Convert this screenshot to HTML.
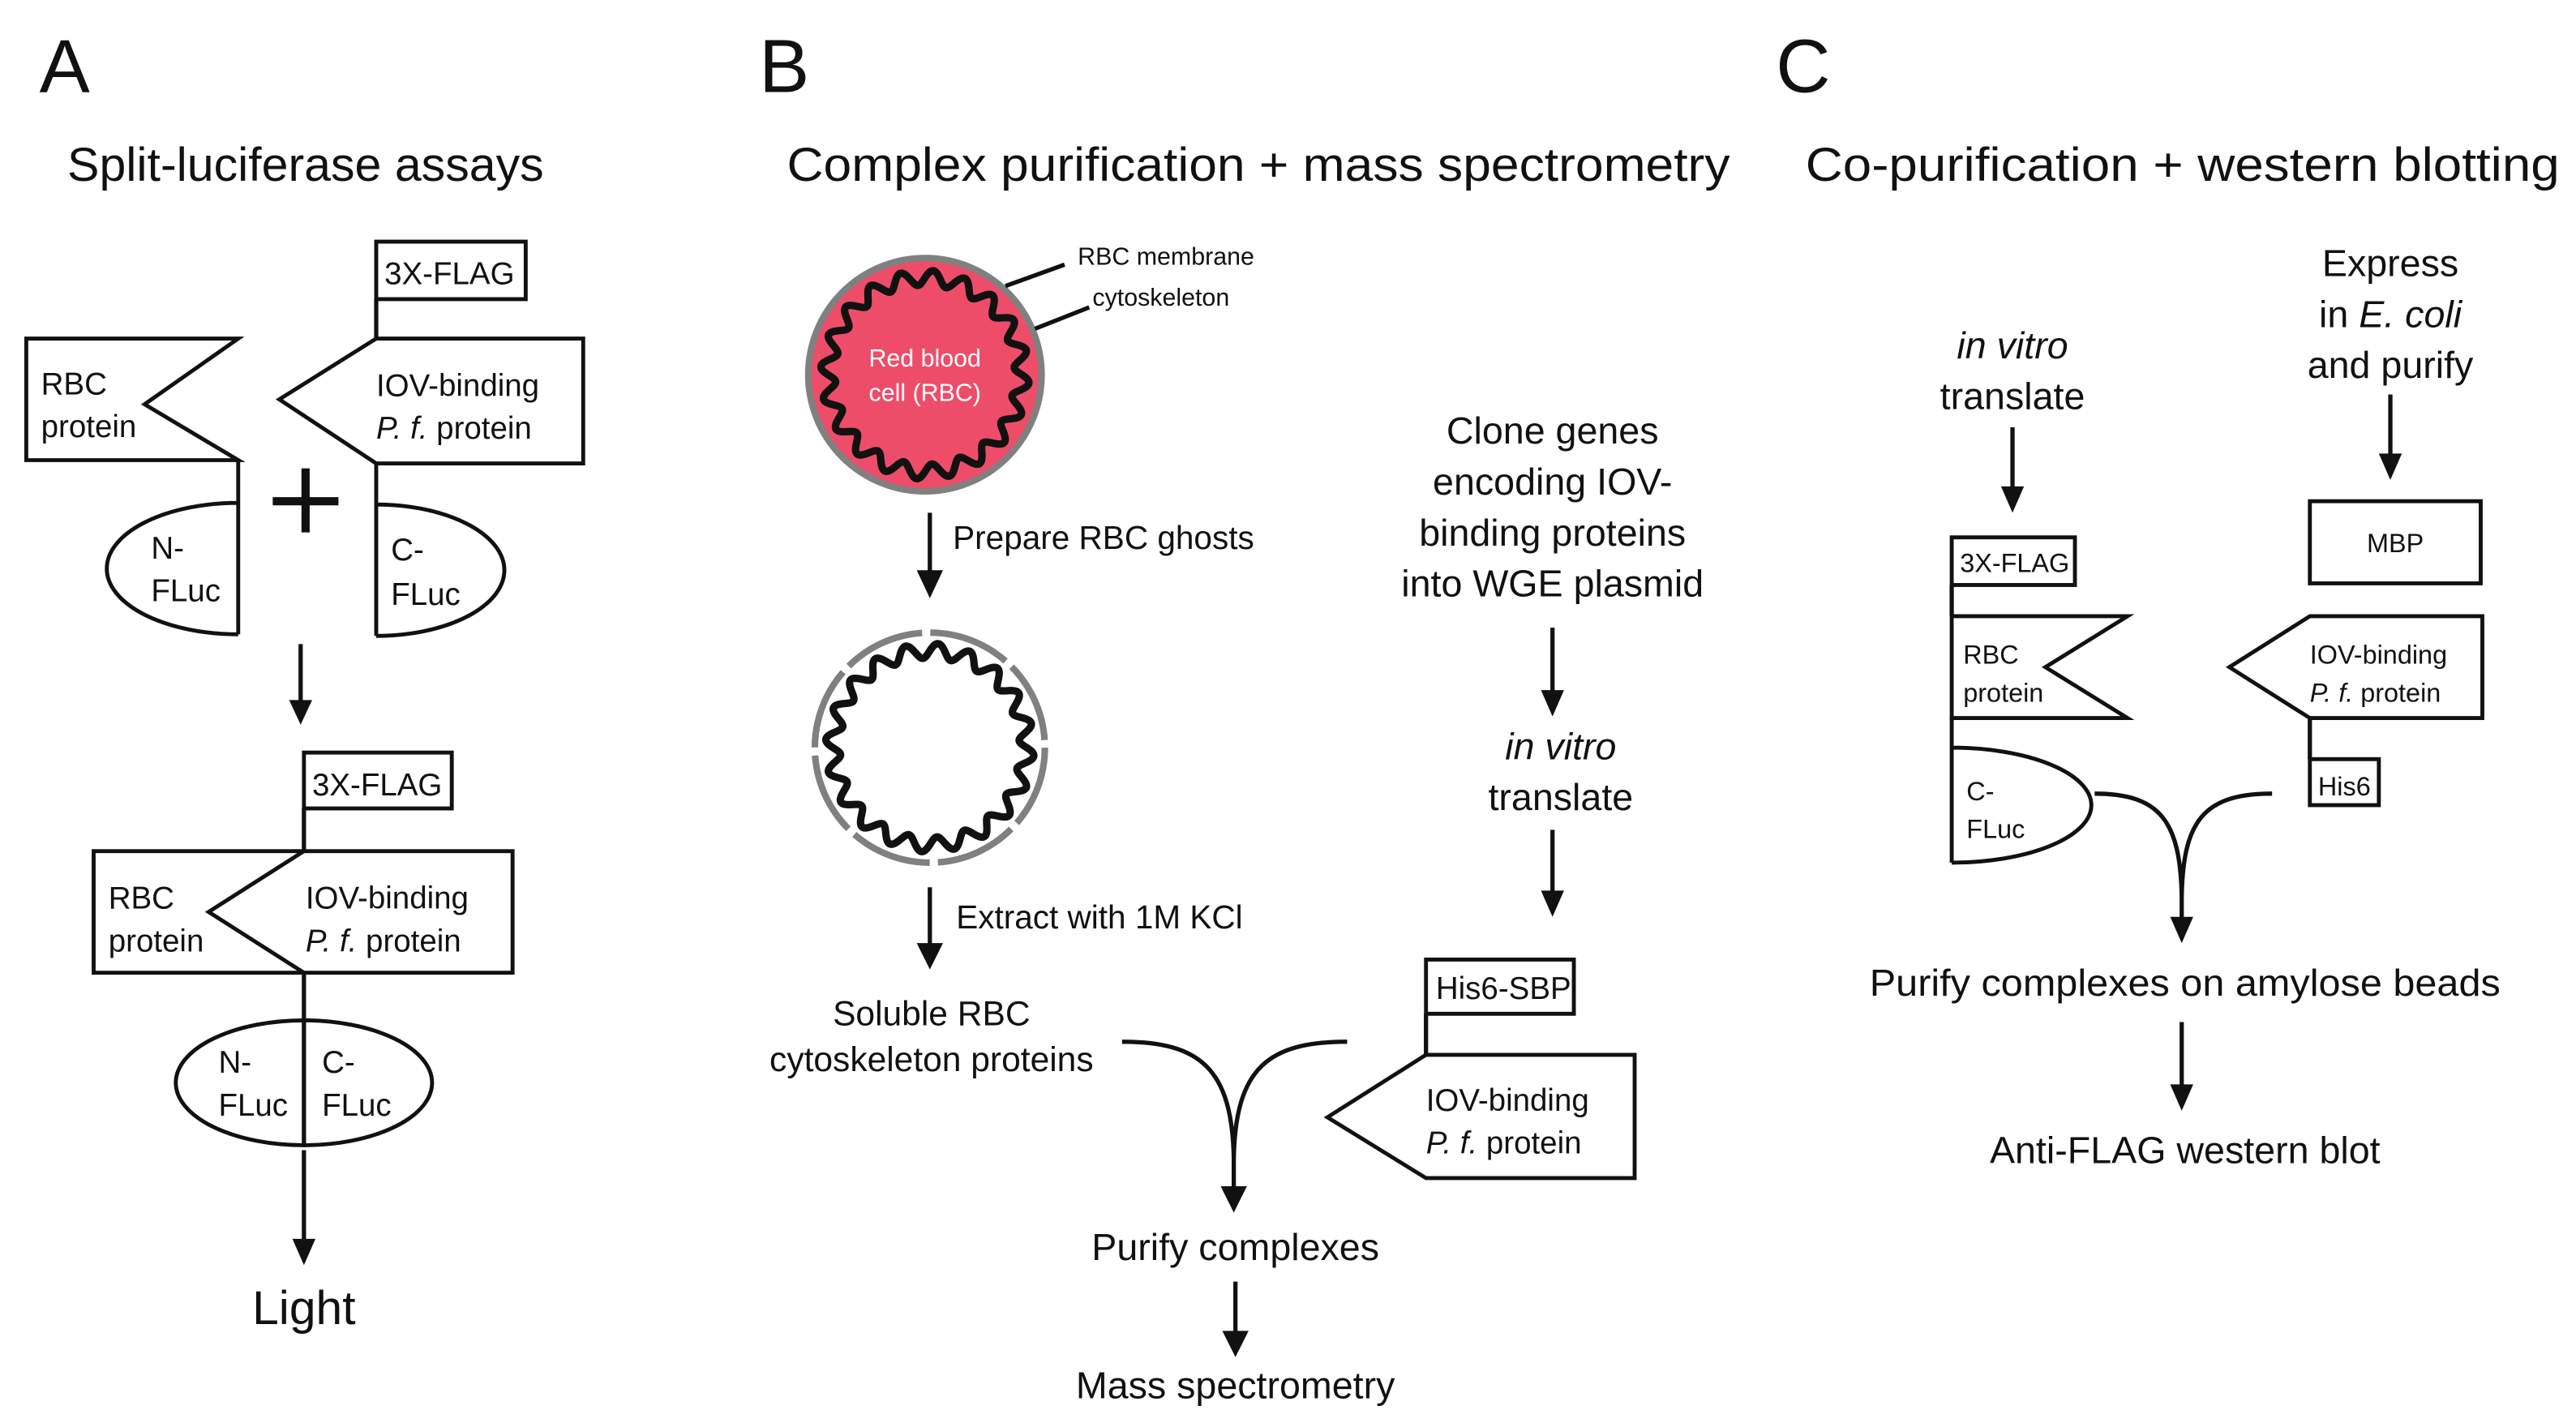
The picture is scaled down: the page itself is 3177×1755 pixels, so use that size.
<!DOCTYPE html>
<html><head><meta charset="utf-8"><style>
html,body{margin:0;padding:0;background:#fff}
svg{display:block}
text{font-family:"Liberation Sans",sans-serif;fill:#111}
.s{fill:none;stroke:#111;stroke-width:2.4;stroke-linejoin:miter}
.w{fill:#fff;stroke:#111;stroke-width:2.4}
.l{stroke:#111;stroke-width:2.6;fill:none}
.wv{fill:none;stroke:#111;stroke-width:4.5;stroke-linejoin:round}
.t19{font-size:19px}.t16{font-size:16px}.t23{font-size:23px}.t28{font-size:29px}
</style></head><body>
<svg width="3177" height="1755" viewBox="0 0 1568 866" xmlns="http://www.w3.org/2000/svg">
<!-- Panel A -->
<text x="24" y="56" style="font-size:46px">A</text>
<text x="41" y="110" class="t28" textLength="290" lengthAdjust="spacingAndGlyphs">Split-luciferase assays</text>
<rect x="229" y="147" width="91" height="35" class="w"/>
<text x="234" y="173" class="t19">3X-FLAG</text>
<line x1="229" y1="182" x2="229" y2="206" class="l"/>
<path d="M16,206 H145 L88,246 L145,280 H16 Z" class="w"/>
<text x="25" y="240" class="t19">RBC</text><text x="25" y="266" class="t19">protein</text>
<path d="M229,206 H355 V282 H229 L170,243 Z" class="w"/>
<text x="229" y="241" class="t19">IOV-binding</text>
<text x="229" y="267" class="t19"><tspan font-style="italic">P. f.</tspan> protein</text>
<path d="M145,280 V386 M145,306 A80,40 0 0 0 145,386" class="s"/>
<text x="92" y="340" class="t19">N-</text><text x="92" y="366" class="t19">FLuc</text>
<path d="M229,282 V387 M229,307 A78,40 0 0 1 229,387" class="s"/>
<text x="238" y="341" class="t19">C-</text><text x="238" y="368" class="t19">FLuc</text>
<path d="M166,305 H206 M186,285 V324" stroke="#111" stroke-width="5"/>
<line x1="183" y1="392" x2="183" y2="430" class="l"/><path d="M176,426 L183,441 L190,426 Z" fill="#111"/>
<rect x="185" y="458" width="90" height="34" class="w"/>
<text x="190" y="484" class="t19">3X-FLAG</text>
<line x1="185" y1="492" x2="185" y2="518" class="l"/>
<rect x="57" y="518" width="255" height="74" class="w"/>
<path d="M185,518 L127,555 L185,592" class="s"/>
<text x="66" y="553" class="t19">RBC</text><text x="66" y="579" class="t19">protein</text>
<text x="186" y="553" class="t19">IOV-binding</text>
<text x="186" y="579" class="t19"><tspan font-style="italic">P. f.</tspan> protein</text>
<ellipse cx="185" cy="659" rx="78" ry="38" class="w"/>
<line x1="185" y1="592" x2="185" y2="697" class="l"/>
<text x="133" y="653" class="t19">N-</text><text x="133" y="679" class="t19">FLuc</text>
<text x="196" y="653" class="t19">C-</text><text x="196" y="679" class="t19">FLuc</text>
<line x1="185" y1="700" x2="185" y2="758" class="l"/><path d="M178,754 L185,770 L192,754 Z" fill="#111"/>
<text x="185" y="806" text-anchor="middle" class="t28">Light</text>

<!-- Panel B -->
<text x="462" y="56" style="font-size:46px">B</text>
<text x="479" y="110" class="t28" textLength="574" lengthAdjust="spacingAndGlyphs">Complex purification + mass spectrometry</text>
<circle cx="563" cy="228" r="71" fill="#ee4d6a" stroke="#808080" stroke-width="4"/>
<path id="wv1" class="wv"/>
<text x="563" y="223" text-anchor="middle" style="font-size:15px;fill:#fff">Red blood</text>
<text x="563" y="244" text-anchor="middle" style="font-size:15px;fill:#fff">cell (RBC)</text>
<line x1="612" y1="174" x2="648" y2="161" class="l"/>
<text x="656" y="161" style="font-size:15px">RBC membrane</text>
<line x1="630" y1="200" x2="663" y2="187" class="l"/>
<text x="665" y="186" style="font-size:15px">cytoskeleton</text>
<line x1="566" y1="312" x2="566" y2="352" class="l"/><path d="M558,347 L566,364 L574,347 Z" fill="#111"/>
<text x="580" y="334" style="font-size:20px">Prepare RBC ghosts</text>
<circle cx="566" cy="455" r="70" fill="none" stroke="#808080" stroke-width="4" stroke-dasharray="50 5"/>
<path id="wv2" class="wv"/>
<line x1="566" y1="540" x2="566" y2="578" class="l"/><path d="M558,574 L566,590 L574,574 Z" fill="#111"/>
<text x="582" y="565" style="font-size:20px">Extract with 1M KCl</text>
<text x="567" y="624" text-anchor="middle" style="font-size:21px">Soluble RBC</text>
<text x="567" y="652" text-anchor="middle" style="font-size:21px">cytoskeleton proteins</text>
<text x="945" y="270" text-anchor="middle" class="t23">Clone genes</text>
<text x="945" y="301" text-anchor="middle" class="t23">encoding IOV-</text>
<text x="945" y="332" text-anchor="middle" class="t23">binding proteins</text>
<text x="945" y="363" text-anchor="middle" class="t23">into WGE plasmid</text>
<line x1="945" y1="382" x2="945" y2="424" class="l"/><path d="M938,420 L945,436 L952,420 Z" fill="#111"/>
<text x="950" y="462" text-anchor="middle" class="t23" font-style="italic">in vitro</text>
<text x="950" y="493" text-anchor="middle" class="t23">translate</text>
<line x1="945" y1="505" x2="945" y2="546" class="l"/><path d="M938,542 L945,558 L952,542 Z" fill="#111"/>
<rect x="868" y="584" width="90" height="33" class="w"/>
<text x="874" y="608" class="t19">His6-SBP</text>
<line x1="868" y1="617" x2="868" y2="642" class="l"/>
<path d="M868,642 H995 V717 H868 L808,680 Z" class="w"/>
<text x="868" y="676" class="t19">IOV-binding</text>
<text x="868" y="702" class="t19"><tspan font-style="italic">P. f.</tspan> protein</text>
<path d="M683,634 C730,634 750,650 751,705 M820,634 C772,634 752,650 751,705 V726" class="l"/>
<path d="M743,722 L751,738 L759,722 Z" fill="#111"/>
<text x="752" y="767" text-anchor="middle" class="t23">Purify complexes</text>
<line x1="752" y1="780" x2="752" y2="814" class="l"/><path d="M744,810 L752,826 L760,810 Z" fill="#111"/>
<text x="752" y="851" text-anchor="middle" class="t23">Mass spectrometry</text>

<!-- Panel C -->
<text x="1081" y="56" style="font-size:46px">C</text>
<text x="1099" y="110" class="t28" textLength="459" lengthAdjust="spacingAndGlyphs">Co-purification + western blotting</text>
<text x="1455" y="168" text-anchor="middle" class="t23">Express</text>
<text x="1455" y="199" text-anchor="middle" class="t23">in <tspan font-style="italic">E. coli</tspan></text>
<text x="1455" y="230" text-anchor="middle" class="t23">and purify</text>
<line x1="1455" y1="240" x2="1455" y2="280" class="l"/><path d="M1448,276 L1455,292 L1462,276 Z" fill="#111"/>
<rect x="1406" y="305" width="104" height="50" class="w"/>
<text x="1458" y="336" text-anchor="middle" class="t16">MBP</text>
<path d="M1406,375 H1511 V437 H1406 L1357,406 Z" class="w"/>
<text x="1406" y="404" class="t16">IOV-binding</text>
<text x="1406" y="427" class="t16"><tspan font-style="italic">P. f.</tspan> protein</text>
<line x1="1406" y1="437" x2="1406" y2="462" class="l"/>
<rect x="1406" y="462" width="42" height="28" class="w"/>
<text x="1411" y="484" class="t16">His6</text>
<text x="1225" y="218" text-anchor="middle" class="t23" font-style="italic">in vitro</text>
<text x="1225" y="249" text-anchor="middle" class="t23">translate</text>
<line x1="1225" y1="260" x2="1225" y2="300" class="l"/><path d="M1218,296 L1225,312 L1232,296 Z" fill="#111"/>
<rect x="1188" y="327" width="75" height="29" class="w"/>
<text x="1193" y="348" class="t16">3X-FLAG</text>
<line x1="1188" y1="356" x2="1188" y2="375" class="l"/>
<path d="M1188,375 H1295 L1245,406 L1295,437 H1188 Z" class="w"/>
<text x="1195" y="404" class="t16">RBC</text><text x="1195" y="427" class="t16">protein</text>
<path d="M1188,437 V525 M1188,455 A85,35 0 0 1 1188,525" class="s"/>
<text x="1197" y="487" class="t16">C-</text><text x="1197" y="510" class="t16">FLuc</text>
<path d="M1275,483 C1315,483 1327,500 1328,545 M1383,483 C1341,483 1329,500 1328,545 V562" class="l"/>
<path d="M1321,558 L1328,574 L1335,558 Z" fill="#111"/>
<text x="1138" y="606" class="t23" textLength="384" lengthAdjust="spacingAndGlyphs">Purify complexes on amylose beads</text>
<line x1="1328" y1="622" x2="1328" y2="664" class="l"/><path d="M1321,660 L1328,676 L1335,660 Z" fill="#111"/>
<text x="1330" y="708" text-anchor="middle" class="t23">Anti-FLAG western blot</text>
</svg>
<script>
function wave(cx,cy,r,a,n){var d="";for(var i=0;i<=720;i++){var t=i/720*2*Math.PI;var rr=r+a*Math.sin(n*t);var x=cx+rr*Math.cos(t),y=cy+rr*Math.sin(t);d+=(i?"L":"M")+x.toFixed(2)+","+y.toFixed(2);}return d+"Z";}
document.getElementById("wv1").setAttribute("d",wave(563,228,59,4.5,20));
document.getElementById("wv2").setAttribute("d",wave(566,455,59,4.5,20));
</script>
</body></html>
